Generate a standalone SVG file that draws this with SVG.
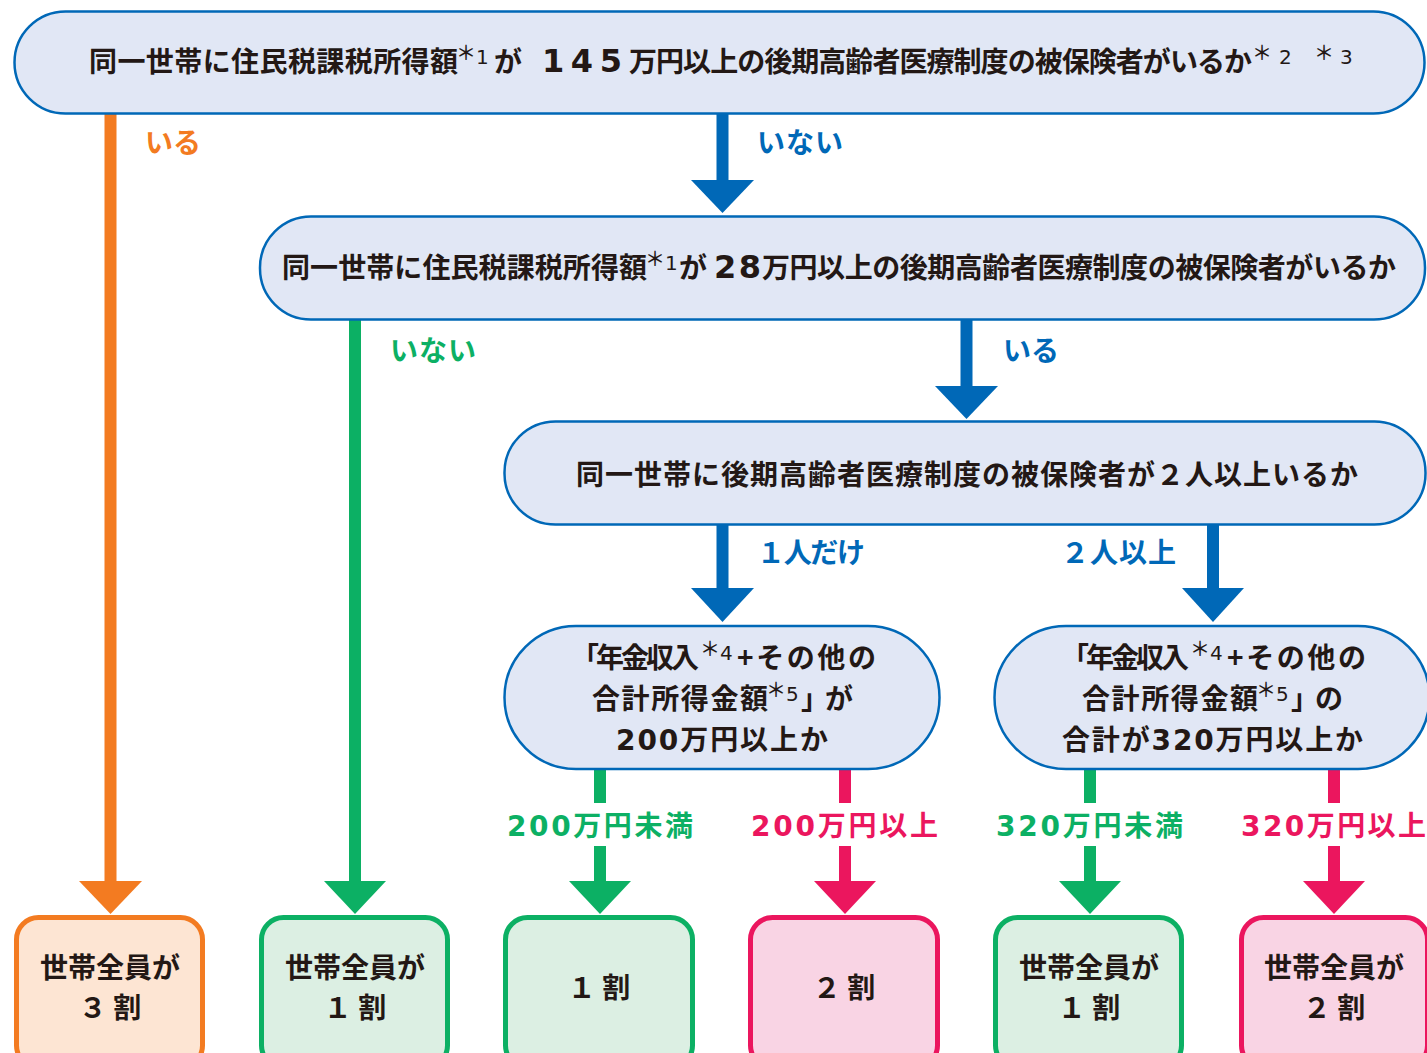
<svg xmlns="http://www.w3.org/2000/svg" width="1427" height="1053" viewBox="0 0 1427 1053">
<defs>
<style>
text{font-family:"Noto Sans CJK JP","Noto Sans",sans-serif;font-weight:700;}
.n{font-family:"DejaVu Sans","Noto Sans CJK JP",sans-serif;}
.t{font-size:28px;fill:#231815;}
.tn{font-size:32px;fill:#231815;font-family:"DejaVu Sans","Noto Sans CJK JP",sans-serif;}
.sup{font-size:20px;fill:#231815;font-family:"DejaVu Sans","Noto Sans",sans-serif;font-weight:400;}
.ast{font-family:"Noto Sans CJK JP",sans-serif;font-weight:500;}
.bar{fill:#E1E7F5;stroke:#0068B7;stroke-width:2.5;}
.blue{fill:#0068B7;}
.orange{fill:#F37B21;}
.green{fill:#0CB064;}
.pink{fill:#EB165E;}
.lbl{font-size:28px;}
.bo{fill:#FDE5D3;stroke:#F37B21;stroke-width:5;}
.bg{fill:#DCEFE3;stroke:#0CB064;stroke-width:5;}
.bp{fill:#F9D4E4;stroke:#EB165E;stroke-width:5;}
</style>
</defs>
<rect width="1427" height="1053" fill="#FFFFFF"/>

<g id="connectors">
  <!-- orange いる -->
  <rect class="orange" x="104.5" y="110" width="12" height="773"/>
  <polygon class="orange" points="79,881 142,881 110.5,914"/>
  <!-- blue いない (top) -->
  <rect class="blue" x="716.5" y="110" width="12" height="72"/>
  <polygon class="blue" points="691,180 754,180 722.5,213"/>
  <!-- green いない -->
  <rect class="green" x="349" y="316" width="12" height="567"/>
  <polygon class="green" points="324,881 386,881 355,914"/>
  <!-- blue いる (mid) -->
  <rect class="blue" x="960.5" y="316" width="12" height="72"/>
  <polygon class="blue" points="935,386 998,386 966.5,419"/>
  <!-- blue 1人だけ -->
  <rect class="blue" x="716.5" y="521" width="12" height="69"/>
  <polygon class="blue" points="691,588 754,588 722.5,622"/>
  <!-- blue 2人以上 -->
  <rect class="blue" x="1207" y="521" width="12" height="69"/>
  <polygon class="blue" points="1182,588 1244,588 1213,622"/>
  <!-- green 200 -->
  <rect class="green" x="594" y="766" width="12" height="37"/>
  <rect class="green" x="594" y="846" width="12" height="37"/>
  <polygon class="green" points="569,881 631,881 600,914"/>
  <!-- pink 200 -->
  <rect class="pink" x="839" y="766" width="12" height="37"/>
  <rect class="pink" x="839" y="846" width="12" height="37"/>
  <polygon class="pink" points="814,881 876,881 845,914"/>
  <!-- green 320 -->
  <rect class="green" x="1084" y="766" width="12" height="37"/>
  <rect class="green" x="1084" y="846" width="12" height="37"/>
  <polygon class="green" points="1059,881 1121,881 1090,914"/>
  <!-- pink 320 -->
  <rect class="pink" x="1328" y="766" width="12" height="37"/>
  <rect class="pink" x="1328" y="846" width="12" height="37"/>
  <polygon class="pink" points="1303,881 1365,881 1334,914"/>

  <text class="lbl orange" x="145" y="153" textLength="56" lengthAdjust="spacing">いる</text>
  <text class="lbl blue" x="757" y="153" textLength="86" lengthAdjust="spacing">いない</text>
  <text class="lbl green" x="390" y="361" textLength="86" lengthAdjust="spacing">いない</text>
  <text class="lbl blue" x="1003" y="361" textLength="56" lengthAdjust="spacing">いる</text>
  <text class="lbl blue" x="757" y="563" textLength="108" lengthAdjust="spacing">１人だけ</text>
  <text class="lbl blue" x="1061" y="563" textLength="115" lengthAdjust="spacing">２人以上</text>
  <text class="lbl green" x="507" y="836" textLength="186" lengthAdjust="spacing"><tspan class="n">200</tspan>万円未満</text>
  <text class="lbl pink" x="751" y="836" textLength="187" lengthAdjust="spacing"><tspan class="n">200</tspan>万円以上</text>
  <text class="lbl green" x="996" y="836" textLength="187" lengthAdjust="spacing"><tspan class="n">320</tspan>万円未満</text>
  <text class="lbl pink" x="1241" y="836" textLength="185" lengthAdjust="spacing"><tspan class="n">320</tspan>万円以上</text>
</g>

<g id="q1">
  <rect class="bar" x="14.5" y="11.5" width="1410" height="102" rx="51"/>
  <text class="t" x="89" y="72" textLength="369" lengthAdjust="spacing">同一世帯に住民税課税所得額</text>
  <text class="sup"><tspan class="ast" x="456" y="60">＊</tspan><tspan x="476" y="64">1</tspan></text>
  <text class="t" x="494" y="72">が</text>
  <text class="tn" x="542" y="72" textLength="80" lengthAdjust="spacing">145</text>
  <text class="t" x="629" y="72" textLength="623" lengthAdjust="spacing">万円以上の後期高齢者医療制度の被保険者がいるか</text>
  <text class="sup"><tspan class="ast" x="1252" y="60">＊</tspan><tspan x="1279" y="64">2</tspan><tspan class="ast" x="1314" y="60">＊</tspan><tspan x="1340" y="64">3</tspan></text>
</g>

<g id="q2">
  <rect class="bar" x="260" y="216.5" width="1165" height="103" rx="51"/>
  <text class="t" x="282" y="277.5" textLength="365" lengthAdjust="spacing">同一世帯に住民税課税所得額</text>
  <text class="sup"><tspan class="ast" x="645" y="265.5">＊</tspan><tspan x="665" y="269.5">1</tspan></text>
  <text class="t" x="679" y="277.5">が</text>
  <text class="tn" x="714" y="277.5" textLength="47" lengthAdjust="spacing">28</text>
  <text class="t" x="762" y="277.5" textLength="634" lengthAdjust="spacing">万円以上の後期高齢者医療制度の被保険者がいるか</text>
</g>

<g id="q3">
  <rect class="bar" x="504.5" y="421.5" width="921" height="103" rx="51"/>
  <text class="t" x="576" y="484.5" textLength="782" lengthAdjust="spacing">同一世帯に後期高齢者医療制度の被保険者が２人以上いるか</text>
</g>

<g id="q4">
  <rect class="bar" x="504.5" y="626" width="435" height="143" rx="71.5"/>
  <text class="t" x="571" y="668" textLength="128" lengthAdjust="spacing">「年金収入</text>
  <text class="sup"><tspan class="ast" x="700" y="656">＊</tspan><tspan x="720" y="660">4</tspan></text>
  <text class="t" x="737" y="668" textLength="139" lengthAdjust="spacing">+その他の</text>
  <text class="t" x="592" y="709" textLength="176" lengthAdjust="spacing">合計所得金額</text>
  <text class="sup"><tspan class="ast" x="766" y="697">＊</tspan><tspan x="786" y="701">5</tspan></text>
  <text class="t" x="801" y="709" textLength="52" lengthAdjust="spacing">」が</text>
  <text class="t" x="616" y="750" textLength="212" lengthAdjust="spacing"><tspan class="n">200</tspan>万円以上か</text>
</g>

<g id="q5">
  <rect class="bar" x="994.5" y="626" width="435" height="143" rx="71.5"/>
  <text class="t" x="1061" y="668" textLength="128" lengthAdjust="spacing">「年金収入</text>
  <text class="sup"><tspan class="ast" x="1190" y="656">＊</tspan><tspan x="1210" y="660">4</tspan></text>
  <text class="t" x="1227" y="668" textLength="139" lengthAdjust="spacing">+その他の</text>
  <text class="t" x="1082" y="709" textLength="176" lengthAdjust="spacing">合計所得金額</text>
  <text class="sup"><tspan class="ast" x="1256" y="697">＊</tspan><tspan x="1276" y="701">5</tspan></text>
  <text class="t" x="1291" y="709" textLength="52" lengthAdjust="spacing">」の</text>
  <text class="t" x="1062" y="750" textLength="301" lengthAdjust="spacing">合計が<tspan class="n">320</tspan>万円以上か</text>
</g>

<g id="r1">
  <rect class="bo" x="16.5" y="917.5" width="186" height="150" rx="22"/>
  <text class="t" x="110" y="977.5" text-anchor="middle">世帯全員が</text>
  <text class="t" x="110" y="1017.5" text-anchor="middle">３ 割</text>
</g>
<g id="r2">
  <rect class="bg" x="261.5" y="917.5" width="186" height="150" rx="22"/>
  <text class="t" x="355" y="977.5" text-anchor="middle">世帯全員が</text>
  <text class="t" x="355" y="1017.5" text-anchor="middle">１ 割</text>
</g>
<g id="r3">
  <rect class="bg" x="505.5" y="917.5" width="187" height="150" rx="22"/>
  <text class="t" x="599" y="998" text-anchor="middle">１ 割</text>
</g>
<g id="r4">
  <rect class="bp" x="750.5" y="917.5" width="187" height="150" rx="22"/>
  <text class="t" x="844" y="998" text-anchor="middle">２ 割</text>
</g>
<g id="r5">
  <rect class="bg" x="995.5" y="917.5" width="186" height="150" rx="22"/>
  <text class="t" x="1089" y="977.5" text-anchor="middle">世帯全員が</text>
  <text class="t" x="1089" y="1017.5" text-anchor="middle">１ 割</text>
</g>
<g id="r6">
  <rect class="bp" x="1241.5" y="917.5" width="186" height="150" rx="22"/>
  <text class="t" x="1334" y="977.5" text-anchor="middle">世帯全員が</text>
  <text class="t" x="1334" y="1017.5" text-anchor="middle">２ 割</text>
</g>
</svg>
